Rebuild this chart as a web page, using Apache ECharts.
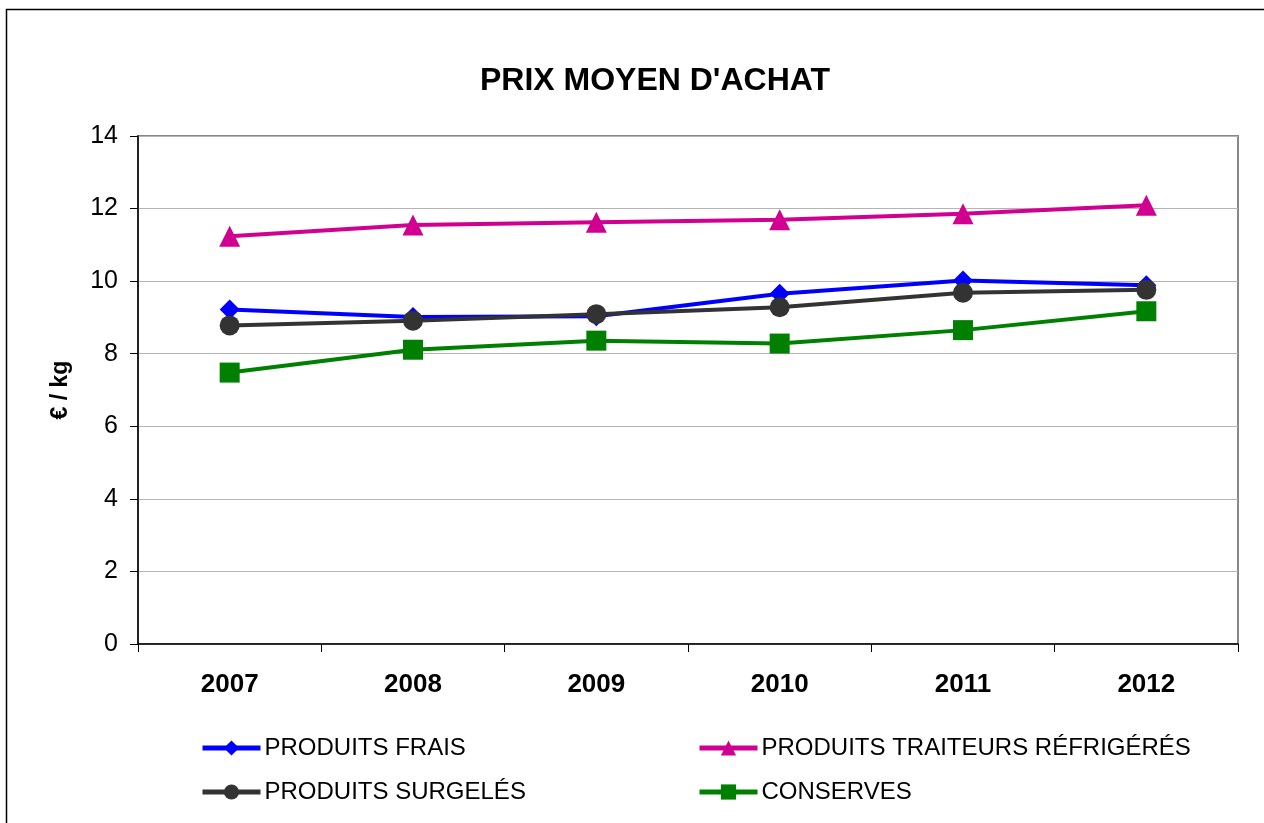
<!DOCTYPE html>
<html>
<head>
<meta charset="utf-8">
<script src="https://cdn.jsdelivr.net/npm/echarts@6/dist/echarts.min.js"></script>
<style>
html,body{margin:0;padding:0;background:#fff;}
#c{width:1264px;height:823px;}
</style>
</head>
<body>
<div id="c"></div>
<script>
const years = ['2007','2008','2009','2010','2011','2012'];
const frais = [9.22, 9.01, 9.03, 9.65, 10.02, 9.89];
const traiteurs = [11.24, 11.55, 11.62, 11.69, 11.86, 12.09];
const surgeles = [8.78, 8.91, 9.09, 9.28, 9.68, 9.76];
const conserves = [7.48, 8.11, 8.36, 8.28, 8.65, 9.17];
const names = ['PRODUITS FRAIS','PRODUITS TRAITEURS RÉFRIGÉRÉS','PRODUITS SURGELÉS','CONSERVES'];

const font = 'Liberation Sans, Arial, sans-serif';
const chart = echarts.init(document.getElementById('c'));
function ser(name, data, color, symbol, size){
  return {name, type:'line', data, symbol, symbolSize:size, showAllSymbol:true,
    lineStyle:{color, width:4}, itemStyle:{color}, emphasis:{disabled:true}};
}
const legendBase = {orient:'horizontal', itemWidth:58, itemHeight:19, itemGap:0, padding:0,
  lineStyle:{width:5},
  textStyle:{fontFamily:font, fontSize:24, color:'#000', padding:[0,0,0,-1]}, selectedMode:false};
chart.setOption({
  animation:false,
  backgroundColor:'#fff',
  title:{text:"PRIX MOYEN D'ACHAT", left:650, textAlign:'center', top:60,
    textStyle:{fontFamily:font, fontSize:32, fontWeight:'bold', color:'#000'}},
  graphic:[{type:'rect', shape:{x:6.5,y:9.5,width:1400,height:1000}, style:{fill:'none', stroke:'#000', lineWidth:1.5}, z:-1}],
  grid:{left:138, right:26, top:136, bottom:179, show:true, borderColor:'#888', borderWidth:2, backgroundColor:'transparent'},
  legend:[
    Object.assign({}, legendBase, {data:[names[0]], left:200, top:736}),
    Object.assign({}, legendBase, {data:[names[1]], left:697, top:736}),
    Object.assign({}, legendBase, {data:[names[2]], left:200, top:780}),
    Object.assign({}, legendBase, {data:[names[3]], left:697, top:780})
  ],
  xAxis:{type:'category', data:years, boundaryGap:true,
    axisLine:{lineStyle:{color:'#000', width:1.5}},
    axisTick:{show:true, length:8, lineStyle:{color:'#000'}, inside:false},
    axisLabel:{fontFamily:font, fontSize:26, fontWeight:'bold', color:'#000', margin:28},
    splitLine:{show:false}},
  yAxis:{type:'value', min:0, max:14, interval:2,
    name:'€ / kg', nameLocation:'middle', nameRotate:90, nameGap:66,
    nameTextStyle:{fontFamily:font, fontSize:23, fontWeight:'bold', color:'#000'},
    axisLine:{show:true, lineStyle:{color:'#000', width:1.5}},
    axisTick:{show:true, length:8, lineStyle:{color:'#000'}},
    axisLabel:{fontFamily:font, fontSize:25, color:'#000', margin:20},
    splitLine:{lineStyle:{color:'#b4b4b4', width:1}}},
  series:[
    ser(names[0], frais, '#0000FF', 'diamond', 20),
    ser(names[1], traiteurs, '#D10091', 'triangle', 21),
    ser(names[2], surgeles, '#333333', 'circle', 20),
    ser(names[3], conserves, '#008000', 'rect', 20)
  ]
});
</script>
</body>
</html>
